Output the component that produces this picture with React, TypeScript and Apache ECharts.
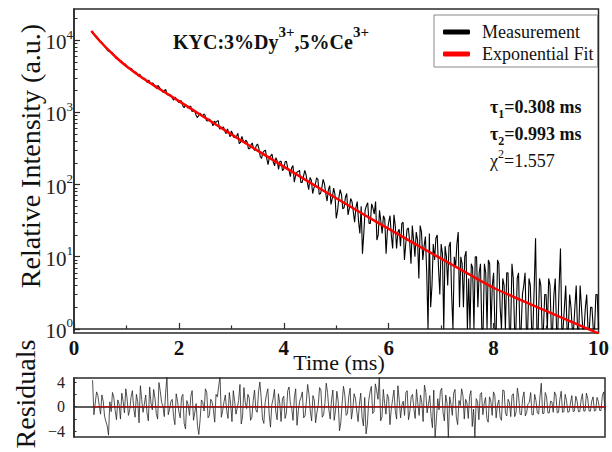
import React, { useEffect, useRef } from 'react';
import * as echarts from 'echarts';

// Sampling of the decay (ms): series A at TIME_START + i*TIME_STEP, series B half a step later
const TIME_START = 0.35;
const TIME_STEP = 0.05;

// Measured intensity (a.u.), grid A
const MEAS_A = [
  13309, 11679, 10729, 9433, 8874, 7856, 7033, 6773, 6414, 5621,
  5399, 5156, 4599, 4431, 4051, 4007, 3512, 3451, 3391, 2964,
  2945, 2579, 2583, 2559, 2238, 2355, 2093, 1888, 2065, 1745,
  1720, 1473, 1542, 1361, 1429, 1156, 1229, 1214, 1023, 1056,
  845, 969, 866, 908, 759, 779, 651, 723, 770, 597,
  627, 506, 531, 553, 445, 468, 367, 465, 377, 390,
  313, 376, 295, 364, 247, 277, 299, 189, 248, 205,
  236, 162, 209, 164, 210, 157, 170, 108, 148, 157,
  107, 157, 105, 125, 75, 99, 118, 75, 118, 75,
  85, 53, 89, 34, 66, 72, 48, 75, 47, 58,
  30, 58, 21, 11, 44, 56, 29, 47, 58, 20,
  31, 37, 11, 30, 20, 38, 13, 24, 29, 9,
  24, 16, 27, 10, 17, 27, 9, 19, 1, 2,
  15, 18, 7, 15, 1, 10, 14, 3, 10, 15,
  2, 8, 10, 1, 1, 7, 10, 2, 8, 1,
  6, 9, 1, 6, 1, 8, 1, 4, 6, 1,
  8, 1, 5, 1, 3, 6, 1, 4, 1, 18,
  1, 4, 1, 3, 5, 1, 3, 1, 4, 1,
  2, 1, 3, 1, 2, 1, 4, 1, 2, 1,
  2, 1, 3, 1,
];

// Measured intensity (a.u.), grid B
const MEAS_B = [
  12074, 11318, 10043, 9344, 8295, 7472, 7197, 6747, 5992, 5641,
  5032, 4894, 4693, 4126, 4064, 3715, 3626, 3147, 3172, 2946,
  2714, 2788, 2464, 2423, 2139, 2233, 2013, 2001, 1752, 1755,
  1564, 1628, 1435, 1449, 1223, 1288, 1141, 1214, 1040, 919,
  897, 933, 950, 769, 811, 727, 753, 749, 587, 617,
  552, 590, 455, 503, 454, 511, 383, 407, 411, 313,
  354, 310, 345, 314, 229, 291, 228, 239, 264, 181,
  210, 209, 155, 206, 169, 128, 183, 134, 151, 107,
  130, 136, 85, 115, 90, 124, 73, 90, 102, 59,
  96, 65, 73, 43, 85, 46, 67, 38, 64, 42,
  48, 31, 50, 21, 51, 29, 54, 39, 17, 44,
  21, 33, 23, 37, 13, 27, 22, 14, 30, 15,
  25, 8, 17, 22, 5, 22, 14, 6, 21, 4,
  9, 20, 3, 11, 14, 4, 16, 1, 7, 22,
  10, 2, 12, 5, 8, 1, 10, 6, 1, 8,
  1, 8, 4, 1, 9, 2, 5, 1, 6, 1,
  5, 1, 6, 1, 4, 1, 5, 1, 4, 1,
  5, 1, 3, 1, 4, 1, 5, 1, 13, 1,
  4, 1, 2, 1, 4, 1, 2, 1, 3, 1,
  2, 1, 3,
];

// Weighted residuals, grid A
const RES_A = [
  4.3, 0.6, 1.8, -1.2, 0.9, -2.4, -4.6, -0.8, 1.5, -2.1,
  0.4, 2.2, -1.0, 1.3, -0.5, 2.6, -1.7, 0.8, 3.4, -0.9,
  1.9, -2.3, 0.6, 2.8, -1.1, 3.9, 0.7, -1.6, 4.8, -0.4,
  1.2, -2.9, 0.9, -1.8, 2.0, -3.6, 0.3, 1.7, -2.2, 0.5,
  -4.5, 1.1, -0.7, 2.3, -1.4, 0.8, -2.5, 1.6, 4.9, -0.6,
  1.9, -1.9, 0.4, 2.6, -1.2, 1.0, -2.8, 3.1, -0.3, 1.4,
  -1.7, 2.7, -0.9, 4.0, -2.0, 0.7, 2.9, -3.3, 1.3, -0.8,
  2.1, -2.4, 1.7, -1.0, 3.2, -0.2, 1.5, -3.0, 0.9, 2.4,
  -1.5, 3.6, -0.7, 1.8, -2.6, 0.3, 2.7, -1.3, 3.8, -0.5,
  1.1, -2.2, 2.5, -3.9, 0.6, 1.9, -1.1, 3.0, -0.4, 1.4,
  -2.4, 2.2, -3.1, -4.4, 1.0, 3.3, -0.8, 2.6, 4.9, -1.6,
  0.5, 2.0, -2.9, 1.2, -0.6, 3.4, -1.8, 0.9, 2.3, -2.1,
  1.6, -0.3, 2.8, -1.4, 0.7, 3.5, -1.0, 1.8, -3.4, -5.0,
  1.3, 2.5, -0.9, 1.9, -5.0, 0.4, 2.2, -1.7, 1.0, 2.9,
  -2.0, 0.6, 1.7, -3.2, -5.0, 0.8, 2.0, -1.3, 1.5, -2.5,
  0.9, 2.4, -1.8, 1.1, -2.2, 2.6, -1.5, 0.7, 1.9, -1.6,
  3.0, -1.2, 1.4, -1.5, 0.5, 2.3, -1.3, 1.0, -1.2, 3.8,
  -1.1, 1.6, -1.0, 0.8, 2.4, -1.0, 1.2, -0.9, 2.0, -0.9,
  0.6, -0.8, 1.7, -0.8, 1.1, -0.7, 2.2, -0.7, 0.9, -0.7,
  1.5, -0.6, 1.8, -0.6,
];

// Weighted residuals, grid B
const RES_B = [
  -1.3, 2.4, 0.2, 1.9, -1.5, -3.1, 0.8, 2.3, -0.6, 1.1,
  -2.0, 0.9, 2.9, -1.4, 1.6, -0.3, 2.0, -2.6, 1.2, 0.4,
  -1.0, 3.2, -0.5, 1.4, -2.0, 2.5, 0.1, 2.2, -1.3, 0.9,
  -1.6, 2.1, -0.8, 1.5, -2.7, 1.0, -1.4, 2.6, -0.9, -3.0,
  -2.1, 0.7, 2.9, -1.8, 1.2, -0.4, 2.0, 3.3, -1.7, 0.8,
  -0.6, 2.3, -2.4, 0.9, -0.2, 3.6, -1.5, 0.7, 2.0, -2.2,
  1.0, -0.5, 2.4, 1.5, -2.7, 2.0, -1.2, 0.3, 2.8, -2.1,
  0.6, 1.3, -1.9, 2.6, 0.4, -2.2, 2.9, -0.6, 1.5, -1.8,
  0.8, 2.0, -2.3, 1.1, -0.9, 3.1, -1.7, 0.5, 2.3, -2.0,
  2.7, -0.6, 0.9, -2.5, 3.3, -1.4, 1.7, -2.0, 2.1, -0.7,
  0.4, -1.7, 1.5, -2.8, 2.4, -1.1, 3.7, 1.2, -2.3, 2.8,
  -1.2, 1.4, -0.4, 2.7, -2.0, 1.1, 0.3, -1.4, 2.6, -0.8,
  2.0, -1.9, 0.5, 1.9, -2.4, 2.3, 0.4, -1.6, 2.7, -2.0,
  -0.5, 3.0, -2.3, 0.6, 1.6, -1.4, 2.8, -2.9, 0.2, 1.8,
  1.2, -1.9, 2.6, -0.4, 1.3, -2.1, 2.3, 0.5, -1.9, 1.6,
  -1.4, 1.8, 0.3, -1.7, 2.7, -1.0, 1.2, -1.6, 2.1, -0.9,
  1.5, -1.3, 2.4, -0.9, 0.7, -1.3, 2.0, -1.0, 1.6, -1.1,
  2.3, -1.0, 0.9, -0.9, 1.9, -0.9, 2.5, -0.8, 1.0, -0.8,
  1.8, -0.7, 0.9, -0.8, 2.1, -0.7, 1.3, -0.7, 1.6, -0.6,
  0.8, -0.6, 2.4,
];

// Exponential fit curve
const FIT_TIME = [0.33, 0.5, 0.82, 1.0, 1.32, 1.6, 2.0, 2.5, 3.0, 3.5, 4.0, 4.5, 5.0, 5.5, 6.0, 6.5, 7.0, 7.5, 8.0, 8.5, 9.0, 9.5, 10.0];
const FIT_VALUE = [13335, 9550, 5598, 4345, 2938, 2173, 1429, 841, 495, 295, 177, 106, 64.6, 39.4, 24.3, 15.1, 9.4, 5.89, 3.72, 2.54, 1.78, 1.24, 0.87];

const Y_DECADES = [0, 1, 2, 3, 4];
const X_TICK_LABELS = [0, 2, 4, 6, 8, 10];
const RES_LABELS = [-4, 0, 4];
const RES_TICKS = [-4, -2, 0, 2, 4];

const SERIF = "'Liberation Serif', 'Times New Roman', serif";
const Y_MIN = -0.056;
const Y_MAX = 4.43;

function interleave(a: number[], b: number[]): number[][] {
  const out: number[][] = [];
  a.forEach((v, i) => {
    out.push([+(TIME_START + i * TIME_STEP).toFixed(3), v]);
    if (i < b.length) out.push([+(TIME_START + (i + 0.5) * TIME_STEP).toFixed(3), b[i]]);
  });
  return out;
}

export default function App() {
  const ref = useRef<HTMLDivElement>(null);
  useEffect(() => {
    document.body.style.margin = '0';
    const chart = echarts.init(ref.current!, null, { renderer: 'svg' });
    const meas = interleave(MEAS_A, MEAS_B).map(([t, v]) => [t, Math.log10(v)]);
    const res = interleave(RES_A, RES_B);
    const fitData = FIT_VALUE.map((v, i) => [FIT_TIME[i], Math.log10(v)]);
    const minorY: number[] = [];
    Y_DECADES.forEach((d) => {
      for (let k = 2; k <= 9; k++) {
        const v = d + Math.log10(k);
        if (v < Y_MAX) minorY.push(v);
      }
    });
    const axisColor = '#2a2a2a';
    const tStart = res[0][0];
    const tEnd = res[res.length - 1][0];
    const option: any = {
      animation: false,
      backgroundColor: '#fff',
      grid: [
        { left: 74, top: 9, width: 530, height: 324, show: true, borderColor: axisColor, borderWidth: 1.5 },
        { left: 74, top: 378, width: 531, height: 59, show: true, borderColor: axisColor, borderWidth: 1.5 },
      ],
      legend: {
        data: ['Measurement', 'Exponential Fit'],
        orient: 'vertical',
        left: 434,
        top: 15,
        padding: [7, 4, 3, 9],
        itemGap: 2,
        itemWidth: 27,
        itemHeight: 5,
        icon: 'roundRect',
        borderColor: '#888',
        borderWidth: 1,
        textStyle: { fontFamily: SERIF, fontSize: 18, color: '#111', padding: [0, 0, 0, 7], lineHeight: 20 },
      },
      xAxis: [
        {
          type: 'value', gridIndex: 0, min: 0, max: 10, interval: 2,
          axisLine: { show: true, lineStyle: { color: axisColor, width: 1.5 } },
          axisTick: { show: true, inside: true, length: 6, lineStyle: { color: axisColor, width: 1.2 } },
          minorTick: { show: true, splitNumber: 2, length: 3.5, lineStyle: { color: axisColor, width: 1.2 } },
          splitLine: { show: false },
          axisLabel: {
            fontFamily: SERIF, fontSize: 21, fontWeight: 'bold', color: '#111', margin: 4,
            formatter: (v: number) => (X_TICK_LABELS.includes(v) ? String(v) : ''),
          },
        },
        {
          type: 'value', gridIndex: 1, min: 0, max: 10,
          axisLine: { show: true, lineStyle: { color: axisColor, width: 1.5 } },
          axisTick: { show: false }, axisLabel: { show: false }, splitLine: { show: false },
        },
      ],
      yAxis: [
        {
          type: 'value', gridIndex: 0, min: Y_MIN, max: Y_MAX,
          axisLine: { show: true, lineStyle: { color: axisColor, width: 1.5 } },
          axisTick: { show: true, inside: true, length: 6, customValues: Y_DECADES, lineStyle: { color: axisColor, width: 1.2 } },
          splitLine: { show: false },
          axisLabel: {
            customValues: Y_DECADES,
            margin: 1,
            formatter: (v: number) => `{b|10}{s|${Math.round(v)}}`,
            rich: {
              b: { fontFamily: SERIF, fontSize: 21, lineHeight: 25, color: '#222', verticalAlign: 'bottom' },
              s: { fontFamily: SERIF, fontSize: 13, lineHeight: 13, color: '#222', verticalAlign: 'top' },
            },
          },
        },
        {
          type: 'value', gridIndex: 0, min: Y_MIN, max: Y_MAX, position: 'left',
          axisLine: { show: false },
          axisTick: { show: true, inside: true, length: 3.5, customValues: minorY, lineStyle: { color: axisColor, width: 1 } },
          axisLabel: { show: false }, splitLine: { show: false },
        },
        {
          type: 'value', gridIndex: 1, min: -4.9, max: 4.65,
          axisLine: { show: true, lineStyle: { color: axisColor, width: 1.5 } },
          axisTick: { show: true, inside: true, length: 2.5, customValues: RES_TICKS, lineStyle: { color: axisColor, width: 1 } },
          splitLine: { show: false },
          axisLabel: {
            customValues: RES_LABELS, margin: 9,
            fontFamily: SERIF, fontSize: 16, color: '#222',
            formatter: (v: number) => (v < 0 ? '\u2212' + Math.abs(v) : String(v)),
          },
        },
      ],
      series: [
        {
          name: 'Measurement', type: 'line', xAxisIndex: 0, yAxisIndex: 0,
          data: meas, showSymbol: false, symbol: 'none',
          lineStyle: { color: '#000', width: 1.1 }, itemStyle: { color: '#000' },
        },
        {
          name: 'Exponential Fit', type: 'line', xAxisIndex: 0, yAxisIndex: 0,
          data: fitData, showSymbol: false, symbol: 'none', smooth: 0.3,
          lineStyle: { color: '#ff0000', width: 2.5 }, itemStyle: { color: '#ff0000' },
        },
        {
          name: 'res', type: 'line', xAxisIndex: 1, yAxisIndex: 2,
          data: res, showSymbol: false, symbol: 'none',
          lineStyle: { color: '#262626', width: 0.8 },
        },
        {
          name: 'zero', type: 'line', xAxisIndex: 1, yAxisIndex: 2,
          data: [[tStart, 0], [tEnd, 0]], showSymbol: false, symbol: 'none',
          lineStyle: { color: '#e00000', width: 1.2 },
        },
      ],
      graphic: [
        {
          type: 'text', x: 173, y: 38,
          style: {
            text: '{b|KYC:3%Dy}{s|3+}{b|,5%Ce}{s|3+}',
            verticalAlign: 'middle', align: 'left',
            rich: {
              b: { fontFamily: SERIF, fontSize: 20, lineHeight: 28, fontWeight: 'bold', fill: '#111', verticalAlign: 'bottom' },
              s: { fontFamily: SERIF, fontSize: 15, lineHeight: 15, fontWeight: 'bold', fill: '#111', verticalAlign: 'top' },
            },
          },
        },
        {
          type: 'text', x: 490, y: 109,
          style: {
            text: '{b|\u03c4}{sub|1}{b|=0.308 ms}', verticalAlign: 'middle', align: 'left',
            rich: {
              b: { fontFamily: SERIF, fontSize: 18, lineHeight: 22, fontWeight: 'bold', fill: '#111', verticalAlign: 'top' },
              sub: { fontFamily: SERIF, fontSize: 12, lineHeight: 12, fontWeight: 'bold', fill: '#111', verticalAlign: 'bottom' },
            },
          },
        },
        {
          type: 'text', x: 490, y: 136,
          style: {
            text: '{b|\u03c4}{sub|2}{b|=0.993 ms}', verticalAlign: 'middle', align: 'left',
            rich: {
              b: { fontFamily: SERIF, fontSize: 18, lineHeight: 22, fontWeight: 'bold', fill: '#111', verticalAlign: 'top' },
              sub: { fontFamily: SERIF, fontSize: 12, lineHeight: 12, fontWeight: 'bold', fill: '#111', verticalAlign: 'bottom' },
            },
          },
        },
        {
          type: 'text', x: 490, y: 159,
          style: {
            text: '{r|\u03c7}{sup|2}{r|=1.557}', verticalAlign: 'middle', align: 'left',
            rich: {
              r: { fontFamily: SERIF, fontSize: 18, lineHeight: 22, fill: '#111', verticalAlign: 'bottom' },
              sup: { fontFamily: SERIF, fontSize: 12, lineHeight: 12, fill: '#111', verticalAlign: 'top' },
            },
          },
        },
        {
          type: 'text', x: 30, y: 156, rotation: Math.PI / 2,
          style: { text: 'Relative Intensity (a.u.)', fontFamily: SERIF, fontSize: 28, fill: '#111', align: 'center', verticalAlign: 'middle' },
        },
        {
          type: 'text', x: 339, y: 362,
          style: { text: 'Time (ms)', fontFamily: SERIF, fontSize: 22, fill: '#111', align: 'center', verticalAlign: 'middle' },
        },
        {
          type: 'text', x: 25, y: 394, rotation: Math.PI / 2,
          style: { text: 'Residuals', fontFamily: SERIF, fontSize: 28, fill: '#111', align: 'center', verticalAlign: 'middle' },
        },
      ],
    };
    chart.setOption(option);
    return () => chart.dispose();
  }, []);
  return <div ref={ref} style={{ width: 612, height: 452 }} />;
}
